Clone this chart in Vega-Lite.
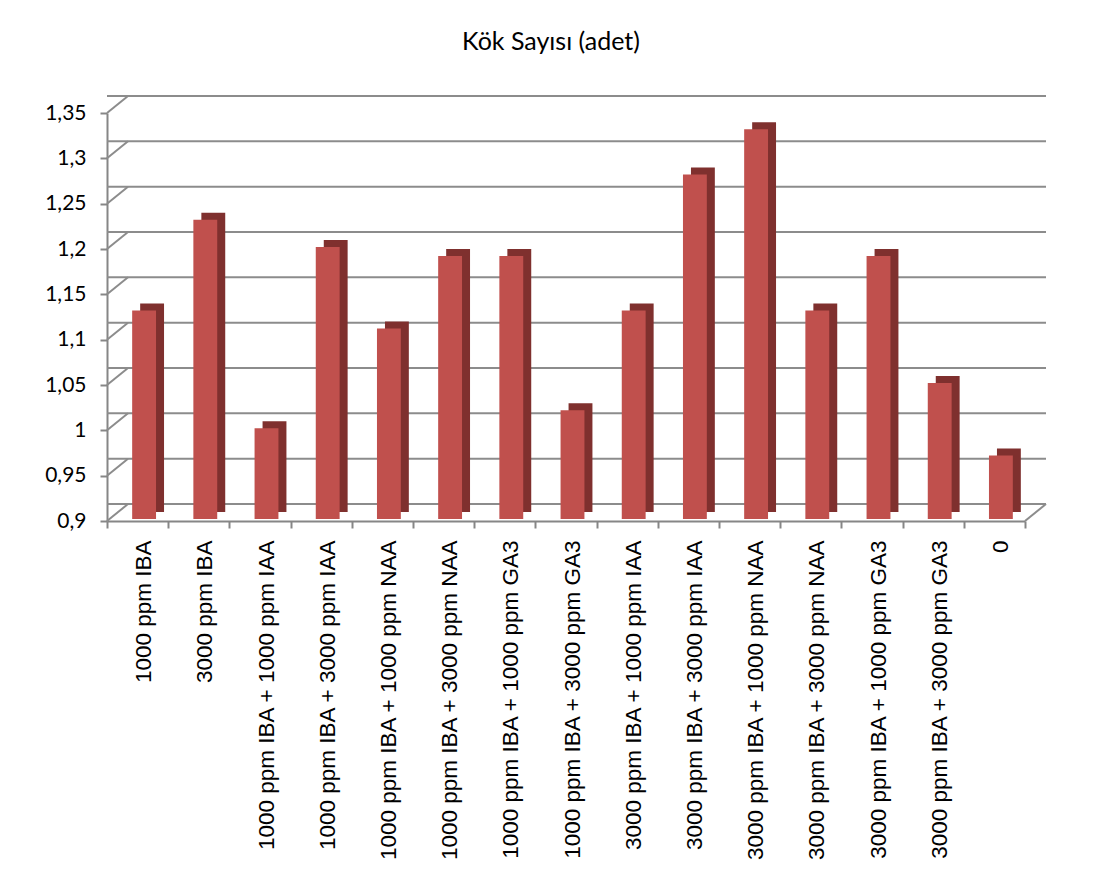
{
  "$schema": "https://vega.github.io/schema/vega-lite/v6.json",
  "autosize": "none",
  "width": 918,
  "height": 408,
  "padding": {"left": 107, "top": 113, "right": 74, "bottom": 374},
  "background": "white",
  "config": {
    "locale": {"number": {"decimal": ",", "thousands": ".", "grouping": [3], "currency": ["", " €"]}},
    "view": {"stroke": null},
    "axis": {"domainColor": "#868686", "tickColor": "#868686", "domainWidth": 2, "tickWidth": 2, "labelColor": "#000000", "grid": false}
  },
  "title": {
    "text": "Kök Sayısı (adet)",
    "font": "Lato",
    "fontSize": 25,
    "fontWeight": "normal",
    "color": "#000000",
    "anchor": "middle",
    "dx": -15,
    "offset": 40
  },
  "datasets": {
    "bars": [
      {"treatment": "1000 ppm IBA", "value": 1.13},
      {"treatment": "3000 ppm IBA", "value": 1.23},
      {"treatment": "1000 ppm IBA + 1000 ppm IAA", "value": 1.00},
      {"treatment": "1000 ppm IBA + 3000 ppm IAA", "value": 1.20},
      {"treatment": "1000 ppm IBA + 1000 ppm NAA", "value": 1.11},
      {"treatment": "1000 ppm IBA + 3000 ppm NAA", "value": 1.19},
      {"treatment": "1000 ppm IBA + 1000 ppm GA3", "value": 1.19},
      {"treatment": "1000 ppm IBA + 3000 ppm GA3", "value": 1.02},
      {"treatment": "3000 ppm IBA + 1000 ppm IAA", "value": 1.13},
      {"treatment": "3000 ppm IBA + 3000 ppm IAA", "value": 1.28},
      {"treatment": "3000 ppm IBA + 1000 ppm NAA", "value": 1.33},
      {"treatment": "3000 ppm IBA + 3000 ppm NAA", "value": 1.13},
      {"treatment": "3000 ppm IBA + 1000 ppm GA3", "value": 1.19},
      {"treatment": "3000 ppm IBA + 3000 ppm GA3", "value": 1.05},
      {"treatment": "0", "value": 0.97}
    ],
    "grid": [
      {"v": 0.9}, {"v": 0.95}, {"v": 1.0}, {"v": 1.05}, {"v": 1.1},
      {"v": 1.15}, {"v": 1.2}, {"v": 1.25}, {"v": 1.3}, {"v": 1.35}
    ],
    "floor": [{"v": 0.9}]
  },
  "encoding": {
    "y": {
      "type": "quantitative",
      "scale": {"domain": [0.9, 1.35], "nice": false, "zero": false},
      "axis": {
        "title": null,
        "values": [0.9, 0.95, 1.0, 1.05, 1.1, 1.15, 1.2, 1.25, 1.3, 1.35],
        "format": ".2~f",
        "labelFont": "Lato",
        "labelFontSize": 21,
        "tickSize": 7,
        "labelPadding": 14
      }
    }
  },
  "resolve": {"scale": {"x": "shared"}},
  "layer": [
    {
      "data": {"name": "grid"},
      "mark": {"type": "rule", "color": "#8c8c8c", "strokeWidth": 2, "xOffset": 21, "x2Offset": 21, "yOffset": -17},
      "encoding": {"y": {"field": "v", "type": "quantitative"}}
    },
    {
      "data": {"name": "grid"},
      "mark": {"type": "rule", "color": "#8c8c8c", "strokeWidth": 2, "x2Offset": -9.6, "y2Offset": -17},
      "encoding": {
        "x": {"datum": "1000 ppm IBA", "type": "nominal", "bandPosition": 0},
        "x2": {"datum": "1000 ppm IBA"},
        "y": {"field": "v", "type": "quantitative"},
        "y2": {"field": "v"}
      }
    },
    {
      "data": {"name": "floor"},
      "mark": {"type": "rule", "color": "#8c8c8c", "strokeWidth": 2, "x2Offset": 51.6, "y2Offset": -17},
      "encoding": {
        "x": {"datum": "0", "type": "nominal", "bandPosition": 1},
        "x2": {"datum": "0"},
        "y": {"field": "v", "type": "quantitative"},
        "y2": {"field": "v"}
      }
    },
    {
      "data": {"name": "bars"},
      "mark": {"type": "bar", "color": "#7f302e", "width": {"band": 0.39}, "xOffset": 14.5, "yOffset": -9, "y2Offset": -9},
      "encoding": {
        "x": {"field": "treatment", "type": "nominal", "sort": null},
        "y": {"field": "value", "type": "quantitative"},
        "y2": {"datum": 0.9}
      }
    },
    {
      "data": {"name": "bars"},
      "mark": {"type": "bar", "color": "#c0504d", "width": {"band": 0.39}, "xOffset": 6.5, "yOffset": -2, "y2Offset": -2},
      "encoding": {
        "x": {
          "field": "treatment",
          "type": "nominal",
          "sort": null,
          "scale": {
            "domain": [
              "1000 ppm IBA", "3000 ppm IBA",
              "1000 ppm IBA + 1000 ppm IAA", "1000 ppm IBA + 3000 ppm IAA",
              "1000 ppm IBA + 1000 ppm NAA", "1000 ppm IBA + 3000 ppm NAA",
              "1000 ppm IBA + 1000 ppm GA3", "1000 ppm IBA + 3000 ppm GA3",
              "3000 ppm IBA + 1000 ppm IAA", "3000 ppm IBA + 3000 ppm IAA",
              "3000 ppm IBA + 1000 ppm NAA", "3000 ppm IBA + 3000 ppm NAA",
              "3000 ppm IBA + 1000 ppm GA3", "3000 ppm IBA + 3000 ppm GA3",
              "0"
            ],
            "paddingInner": 0,
            "paddingOuter": 0
          },
          "axis": {
            "title": null,
            "labelAngle": -90,
            "labelFont": "Liberation Sans",
            "labelFontSize": 22.5,
            "labelLimit": 400,
            "labelOffset": 6,
            "labelPadding": 12,
            "tickSize": 7,
            "tickBand": "extent"
          }
        },
        "y": {"field": "value", "type": "quantitative"},
        "y2": {"datum": 0.9}
      }
    }
  ]
}
